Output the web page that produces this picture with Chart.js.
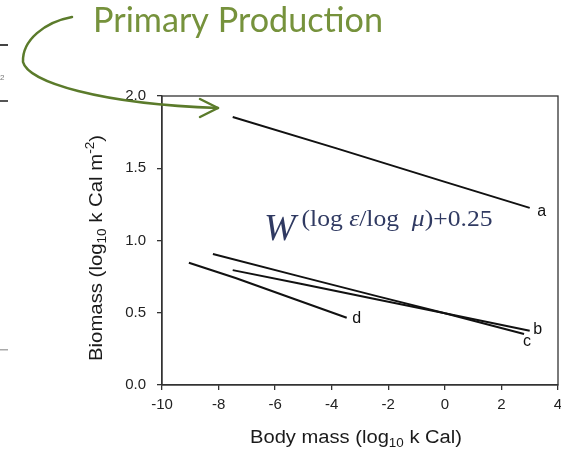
<!DOCTYPE html>
<html>
<head>
<meta charset="utf-8">
<script src="https://cdn.jsdelivr.net/npm/chart.js@4.4.0/dist/chart.umd.min.js"></script>
<style>
  html, body { margin: 0; padding: 0; background: #fff; }
  canvas { display: block; }
</style>
</head>
<body>
<canvas id="biomass" width="561" height="449"></canvas>
<script>
"use strict";

// body mass (log10 kCal) vs biomass (log10 kCal m-2), one line per group
var seriesNames = ["a", "b", "c", "d"];
var xA = [-7.5, -3.8, 0, 3.0];
var yA = [1.855, 1.636, 1.406, 1.226];
var xB = [-8.2, -5.1, -2.3, 0, 3.0];
var yB = [0.906, 0.75, 0.61, 0.496, 0.375];
var xC = [-7.5, -5.1, -2.3, 0, 2.8];
var yC = [0.795, 0.70, 0.588, 0.496, 0.353];
var xD = [-9.05, -7.4, -5.4, -3.47];
var yD = [0.846, 0.74, 0.60, 0.465];
var xRange = [-10, 4];
var yRange = [0, 2];

var pairs = function (xs, ys) {
  return xs.map(function (x, i) {
    return { x: x, y: ys[i] };
  });
};
var allX = [xA, xB, xC, xD];
var allY = [yA, yB, yC, yD];

// where each letter sits relative to the end of its line (px)
var labelOffset = { a: [12, 4], b: [8, -1], c: [3, 8], d: [10, 1] };

var sans = "'Liberation Sans', Arial, Helvetica, sans-serif";
var serif = "'Liberation Serif', 'Times New Roman', serif";

// draws a run of text pieces (sub/superscripts) centred on cx,
// stretched sideways to fill targetW when given
function drawParts(ctx, parts, cx, cy, targetW) {
  var total = 0;
  parts.forEach(function (p) {
    ctx.font = p.font;
    p.w = ctx.measureText(p.t).width;
    total += p.w;
  });
  var k = targetW ? targetW / total : 1;
  ctx.save();
  ctx.translate(cx - (total * k) / 2, cy);
  ctx.scale(k, 1);
  ctx.textAlign = "left";
  ctx.textBaseline = "alphabetic";
  var x = 0;
  parts.forEach(function (p) {
    ctx.font = p.font;
    ctx.fillText(p.t, x, p.dy || 0);
    x += p.w;
  });
  ctx.restore();
}

var overlay = {
  id: "overlay",
  afterDatasetsDraw: function (chart) {
    var ctx = chart.ctx;
    var area = chart.chartArea;
    var sx = chart.scales.x;
    var sy = chart.scales.y;
    ctx.save();

    // frame on top and right
    ctx.strokeStyle = "#333";
    ctx.lineWidth = 1.3;
    ctx.strokeRect(area.left, area.top, area.right - area.left, area.bottom - area.top);

    // line letters
    ctx.fillStyle = "#111";
    ctx.font = "16px " + sans;
    ctx.textAlign = "center";
    ctx.textBaseline = "middle";
    seriesNames.forEach(function (name, i) {
      var xs = allX[i];
      var ys = allY[i];
      var px = sx.getPixelForValue(xs[xs.length - 1]);
      var py = sy.getPixelForValue(ys[ys.length - 1]);
      ctx.fillText(name, px + labelOffset[name][0], py + labelOffset[name][1]);
    });

    // scaling formula, slightly soft
    ctx.fillStyle = "#303a62";
    ctx.filter = "blur(0.5px)";
    ctx.textAlign = "left";
    ctx.textBaseline = "alphabetic";
    ctx.font = "italic 38px " + serif;
    ctx.fillText("W", 264, 240, 34);
    drawParts(ctx, [
      { t: "(log ", font: "23px " + serif },
      { t: "\u03b5", font: "italic 23px " + serif },
      { t: "/log  ", font: "23px " + serif },
      { t: "\u03bc", font: "italic 23px " + serif },
      { t: ")+0.25", font: "23px " + serif }
    ], 397, 226, 191);
    ctx.filter = "none";

    // axis titles
    ctx.fillStyle = "#1a1a1a";
    drawParts(ctx, [
      { t: "Body mass (log", font: "18px " + sans },
      { t: "10", font: "12px " + sans, dy: 4 },
      { t: " k Cal)", font: "18px " + sans }
    ], 356, 443, 212);

    ctx.save();
    ctx.translate(102, 248);
    ctx.rotate(-Math.PI / 2);
    drawParts(ctx, [
      { t: "Biomass (log", font: "18px " + sans },
      { t: "10", font: "12px " + sans, dy: 4 },
      { t: " k Cal m", font: "18px " + sans },
      { t: "-2", font: "12px " + sans, dy: -8 },
      { t: ")", font: "18px " + sans }
    ], 0, 0, 226);
    ctx.restore();
    ctx.restore();
  },
  afterDraw: function (chart) {
    var ctx = chart.ctx;
    ctx.save();

    // bits of the neighbouring slide at the left edge
    ctx.fillStyle = "#444";
    ctx.fillRect(0, 44, 8, 2);
    ctx.fillStyle = "#555";
    ctx.fillRect(0, 100, 8, 2);
    ctx.fillStyle = "#aaa";
    ctx.fillRect(0, 349, 8, 1.5);
    ctx.fillStyle = "#777";
    ctx.font = "8px " + sans;
    ctx.textAlign = "left";
    ctx.textBaseline = "middle";
    ctx.fillText("2", 0, 78);

    // heading
    ctx.fillStyle = "#76923c";
    ctx.font = "35px Lato, 'Open Sans', sans-serif";
    ctx.textBaseline = "alphabetic";
    ctx.fillText("Primary Production", 93, 32, 290);

    // curved arrow pointing at the top line
    ctx.strokeStyle = "#5b7b2b";
    ctx.lineWidth = 2.5;
    ctx.lineCap = "round";
    ctx.lineJoin = "round";
    ctx.beginPath();
    ctx.moveTo(72, 17);
    ctx.bezierCurveTo(45, 22, 22, 40, 23, 62);
    ctx.bezierCurveTo(28, 82, 100, 104, 218, 108);
    ctx.stroke();
    ctx.beginPath();
    ctx.moveTo(200, 99);
    ctx.lineTo(218, 108);
    ctx.lineTo(200, 117);
    ctx.stroke();
    ctx.restore();
  }
};

var ctx = document.getElementById("biomass").getContext("2d");
var axisColor = "#333";

var chart = new Chart(ctx, {
  type: "scatter",
  data: {
    datasets: seriesNames.map(function (name, i) {
      return {
        label: name,
        data: pairs(allX[i], allY[i]),
        showLine: true,
        borderColor: "#111",
        borderWidth: 2,
        pointRadius: 0,
        tension: 0
      };
    })
  },
  options: {
    responsive: false,
    animation: false,
    devicePixelRatio: 1,
    layout: { padding: { top: 96, right: 3, left: 0, bottom: 0 } },
    plugins: {
      legend: { display: false },
      tooltip: { enabled: false }
    },
    scales: {
      x: {
        type: "linear",
        min: xRange[0],
        max: xRange[1],
        afterFit: function (scale) {
          scale.height = 64;
          // let the "4" hang past the plot edge
          scale.paddingLeft = 0;
          scale.paddingRight = 0;
        },
        ticks: {
          stepSize: 2,
          color: "#222",
          padding: 6,
          font: { family: sans, size: 15 }
        },
        grid: {
          drawOnChartArea: false,
          drawTicks: true,
          tickLength: 5,
          color: axisColor,
          lineWidth: 1.3
        },
        border: { color: axisColor, width: 1.3 }
      },
      y: {
        type: "linear",
        min: yRange[0],
        max: yRange[1],
        afterFit: function (scale) {
          scale.width = 162;
          scale.paddingTop = 0;
          scale.paddingBottom = 0;
        },
        ticks: {
          stepSize: 0.5,
          color: "#222",
          padding: 11,
          font: { family: sans, size: 15 },
          callback: function (v) {
            return v.toFixed(1);
          }
        },
        grid: {
          drawOnChartArea: false,
          drawTicks: true,
          tickLength: 5,
          color: axisColor,
          lineWidth: 1.3
        },
        border: { color: axisColor, width: 1.3 }
      }
    }
  },
  plugins: [overlay]
});
</script>
</body>
</html>
